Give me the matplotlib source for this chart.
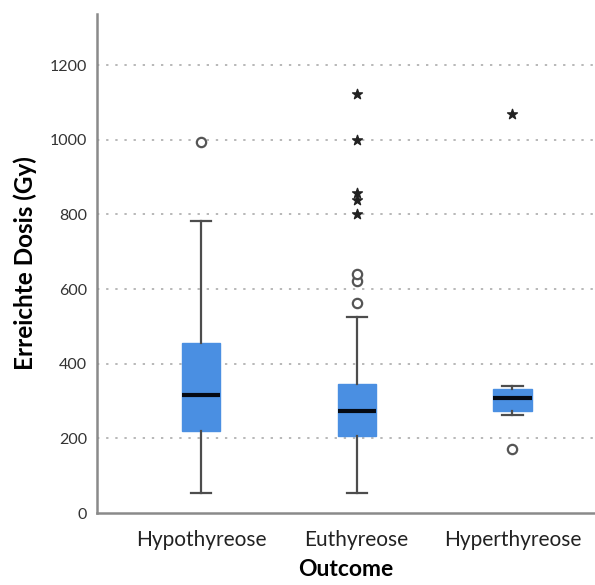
import matplotlib
matplotlib.use("Agg")
import matplotlib.pyplot as plt

plt.rcParams['font.family'] = ['Lato', 'DejaVu Sans']

categories = ["Hypothyreose", "Euthyreose", "Hyperthyreose"]
q1 = [220, 207, 274]
medians = [315, 273, 308]
q3 = [455, 345, 333]
whislo = [55, 55, 262]
whishi = [782, 525, 340]
outliers = [[993], [562, 622, 640], [171]]
extremes = [[], [800, 840, 857, 1000, 1122], [1070]]
yticks = [0, 200, 400, 600, 800, 1000, 1200]

fig = plt.figure(figsize=(5.95, 5.85), dpi=100)
ax = fig.add_axes([0.163, 0.123, 0.837, 0.853])

stats = []
for i, c in enumerate(categories):
    stats.append(dict(label=c, q1=q1[i], med=medians[i], q3=q3[i],
                      whislo=whislo[i], whishi=whishi[i], fliers=[]))

positions = list(range(len(categories)))
box_color = '#4a8fe2'
ax.bxp(stats, positions=positions, widths=0.245, capwidths=0.13,
       showfliers=False, patch_artist=True,
       boxprops=dict(facecolor=box_color, edgecolor=box_color, linewidth=1),
       medianprops=dict(color='#050a14', linewidth=3, solid_capstyle='butt'),
       whiskerprops=dict(color='#4d4d4d', linewidth=1.6),
       capprops=dict(color='#4d4d4d', linewidth=1.6), zorder=3)

for i, vals in enumerate(outliers):
    if vals:
        ax.scatter([positions[i]] * len(vals), vals, s=45, facecolors='white',
                   edgecolors='#555555', linewidths=1.6, zorder=4)
for i, vals in enumerate(extremes):
    if vals:
        ax.scatter([positions[i]] * len(vals), vals, s=55, marker='*',
                   color='#222222', zorder=4)

ax.set_xlim(-0.667, 2.53)
ax.set_ylim(0, 1337)
ax.set_yticks(yticks)
ax.set_yticklabels([str(v) for v in yticks])
ax.set_xticks(positions)
ax.set_xticklabels(categories)

for v in yticks[1:]:
    ax.axhline(v, color='#b8b8b8', linewidth=1.4, linestyle=(0, (1.2, 3.5)), zorder=1)

for s in ['top', 'right']:
    ax.spines[s].set_visible(False)
for s in ['left', 'bottom']:
    ax.spines[s].set_color('#8a8a8a')
    ax.spines[s].set_linewidth(1.8)

ax.tick_params(axis='y', length=0, pad=7, labelsize=11.5, labelcolor='#333333')
ax.tick_params(axis='x', length=0, pad=12, labelsize=15, labelcolor='#222222')

ax.set_ylabel("Erreichte Dosis (Gy)", fontsize=17.5, fontweight='bold', labelpad=9)
ax.set_xlabel("Outcome", fontsize=16.5, fontweight='bold', labelpad=7)

fig.savefig("out.png", dpi=100)
